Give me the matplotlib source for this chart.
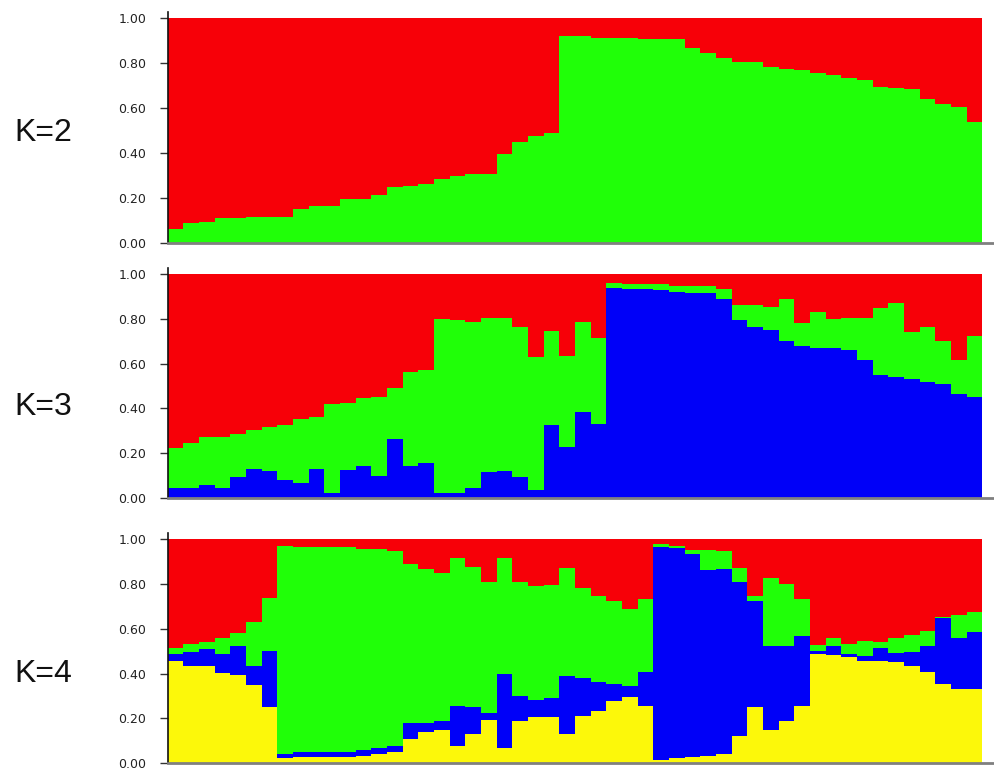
import matplotlib
matplotlib.use("Agg")
import matplotlib.pyplot as plt
import numpy as np

# STRUCTURE-style membership plots, 52 individuals.
# Values are cumulative boundaries (bottom cluster first), red fills the rest up to 1.

k2_green = [0.059, 0.086, 0.094, 0.108, 0.108, 0.116, 0.116, 0.116, 0.149, 0.165,
            0.165, 0.195, 0.195, 0.212, 0.247, 0.253, 0.260, 0.282, 0.297, 0.306,
            0.306, 0.395, 0.447, 0.475, 0.490, 0.921, 0.921, 0.914, 0.914, 0.911,
            0.906, 0.906, 0.906, 0.869, 0.844, 0.822, 0.807, 0.807, 0.785, 0.773,
            0.770, 0.758, 0.747, 0.736, 0.725, 0.692, 0.691, 0.684, 0.640, 0.618,
            0.606, 0.539]

k3_blue = [0.045, 0.045, 0.059, 0.045, 0.094, 0.131, 0.122, 0.082, 0.067, 0.131,
           0.025, 0.126, 0.146, 0.100, 0.263, 0.146, 0.156, 0.022, 0.022, 0.045,
           0.119, 0.123, 0.094, 0.037, 0.327, 0.230, 0.383, 0.330, 0.936, 0.932,
           0.932, 0.929, 0.918, 0.914, 0.914, 0.887, 0.795, 0.765, 0.750, 0.701,
           0.679, 0.669, 0.669, 0.661, 0.614, 0.550, 0.542, 0.530, 0.516, 0.508,
           0.464, 0.450]
k3_green = [0.223, 0.248, 0.275, 0.275, 0.287, 0.302, 0.319, 0.327, 0.354, 0.364,
            0.419, 0.426, 0.446, 0.453, 0.493, 0.562, 0.572, 0.798, 0.795, 0.786,
            0.805, 0.805, 0.762, 0.629, 0.747, 0.636, 0.785, 0.716, 0.961, 0.955,
            0.955, 0.954, 0.947, 0.947, 0.947, 0.933, 0.862, 0.862, 0.850, 0.889,
            0.780, 0.832, 0.799, 0.805, 0.805, 0.847, 0.869, 0.743, 0.761, 0.701,
            0.617, 0.725]

k4_yellow = [0.455, 0.435, 0.435, 0.401, 0.394, 0.351, 0.250, 0.022, 0.030, 0.030,
             0.030, 0.030, 0.034, 0.042, 0.049, 0.108, 0.138, 0.150, 0.079, 0.131,
             0.193, 0.067, 0.190, 0.208, 0.208, 0.131, 0.212, 0.235, 0.279, 0.297,
             0.257, 0.016, 0.022, 0.030, 0.034, 0.042, 0.120, 0.250, 0.150, 0.187,
             0.257, 0.487, 0.483, 0.473, 0.458, 0.458, 0.450, 0.435, 0.406, 0.354,
             0.331, 0.331]
k4_blue = [0.487, 0.495, 0.510, 0.487, 0.522, 0.435, 0.502, 0.042, 0.049, 0.052,
           0.052, 0.052, 0.059, 0.067, 0.079, 0.178, 0.178, 0.187, 0.257, 0.250,
           0.223, 0.398, 0.302, 0.283, 0.290, 0.391, 0.379, 0.361, 0.354, 0.346,
           0.406, 0.966, 0.958, 0.933, 0.862, 0.866, 0.810, 0.725, 0.522, 0.522,
           0.566, 0.499, 0.522, 0.487, 0.480, 0.513, 0.490, 0.495, 0.522, 0.646,
           0.559, 0.584]
k4_green = [0.513, 0.532, 0.542, 0.557, 0.580, 0.629, 0.736, 0.970, 0.963, 0.963,
            0.963, 0.963, 0.955, 0.955, 0.945, 0.886, 0.866, 0.847, 0.915, 0.874,
            0.807, 0.914, 0.807, 0.790, 0.795, 0.871, 0.780, 0.747, 0.725, 0.688,
            0.733, 0.978, 0.970, 0.952, 0.952, 0.948, 0.869, 0.747, 0.826, 0.800,
            0.733, 0.527, 0.557, 0.532, 0.547, 0.539, 0.557, 0.572, 0.591, 0.654,
            0.663, 0.676]

panel_labels = ["K=2", "K=3", "K=4"]
yticks = [0.0, 0.2, 0.4, 0.6, 0.8, 1.0]

RED = "#f70008"
GREEN = "#20ff08"
BLUE = "#0000f8"
YELLOW = "#fcf80a"

panels = [
    [(k2_green, GREEN)],
    [(k3_blue, BLUE), (k3_green, GREEN)],
    [(k4_yellow, YELLOW), (k4_blue, BLUE), (k4_green, GREEN)],
]

fig = plt.figure(figsize=(9.94, 7.73), dpi=100)
bottoms = [0.6860, 0.3554, 0.0125]
label_y = [0.8283, 0.4739, 0.1285]
x = np.arange(len(k2_green))

for layers, b, ly, lab in zip(panels, bottoms, label_y, panel_labels):
    ax = fig.add_axes([0.1695, b, 0.8305, 0.2982])
    prev = np.zeros(len(x))
    for top, col in layers:
        top = np.asarray(top)
        ax.bar(x, top - prev, bottom=prev, width=1.0, align="edge",
               color=col, linewidth=0, antialiased=False)
        prev = top
    ax.bar(x, 1.0 - prev, bottom=prev, width=1.0, align="edge",
           color=RED, linewidth=0, antialiased=False)

    ax.set_xlim(0.05, 52.74)
    ax.set_ylim(0, 1.027)
    ax.set_yticks(yticks)
    ax.set_yticklabels([f"{t:.2f}" for t in yticks], fontsize=9, color="#222222")
    ax.set_xticks([])
    ax.tick_params(axis="y", direction="out", length=6, width=1, pad=10, color="#333333")
    for s in ["top", "right"]:
        ax.spines[s].set_visible(False)
    ax.spines["left"].set_color("#111111")
    ax.spines["left"].set_linewidth(1.2)
    ax.spines["bottom"].set_color("#808080")
    ax.spines["bottom"].set_linewidth(2)

    fig.text(0.014, ly, lab, fontsize=23, family="Liberation Sans",
             ha="left", va="center", color="#111111")

fig.savefig("out.png", dpi=100)
